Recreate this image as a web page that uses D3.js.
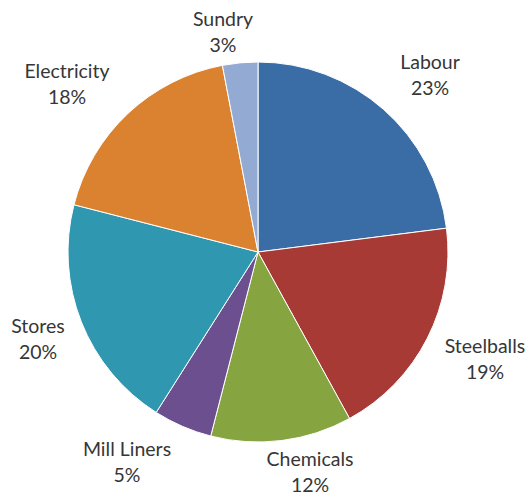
<!DOCTYPE html>
<html>
<head>
<meta charset="utf-8">
<script src="https://cdn.jsdelivr.net/npm/d3@7/dist/d3.min.js"></script>
<style>
  html, body { margin: 0; padding: 0; background: #fff; }
  svg text { font-family: Lato, "Open Sans", "Liberation Sans", sans-serif; font-size: 19.5px; fill: #363636; }
</style>
</head>
<body>
<svg id="chart" width="528" height="494"></svg>
<script>
// Cost breakdown shares, clockwise from 12 o'clock
const categories = ["Labour", "Steelballs", "Chemicals", "Mill Liners", "Stores", "Electricity", "Sundry"];
const shares = [23, 19, 12, 5, 20, 18, 3];
const colors = ["#3A6DA6", "#A83A36", "#86A43F", "#6B4F8E", "#2F97AF", "#DA8230", "#93AAD2"];
// label centre x and first-line baseline, in pixels
const labelX = [430, 485, 310, 127, 38, 67, 223];
const labelY = [69, 353, 466, 456, 333, 78, 26];

const svg = d3.select("#chart");
const cx = 258, cy = 252, r = 190;

const data = categories.map((c, i) => ({ name: c, value: shares[i], color: colors[i], lx: labelX[i], ly: labelY[i] }));

const pie = d3.pie().value(d => d.value).sort(null);
const arc = d3.arc().innerRadius(0).outerRadius(r);

const g = svg.append("g").attr("transform", `translate(${cx},${cy})`);
g.selectAll("path")
  .data(pie(data))
  .join("path")
  .attr("d", arc)
  .attr("fill", d => d.data.color)
  .attr("stroke", "#fff")
  .attr("stroke-width", 1);

const labels = svg.append("g").selectAll("text")
  .data(data)
  .join("text")
  .attr("text-anchor", "middle")
  .attr("x", d => d.lx)
  .attr("y", d => d.ly);
labels.append("tspan").attr("x", d => d.lx).text(d => d.name);
labels.append("tspan").attr("x", d => d.lx).attr("dy", 25.5).text(d => d.value + "%");
</script>
</body>
</html>
